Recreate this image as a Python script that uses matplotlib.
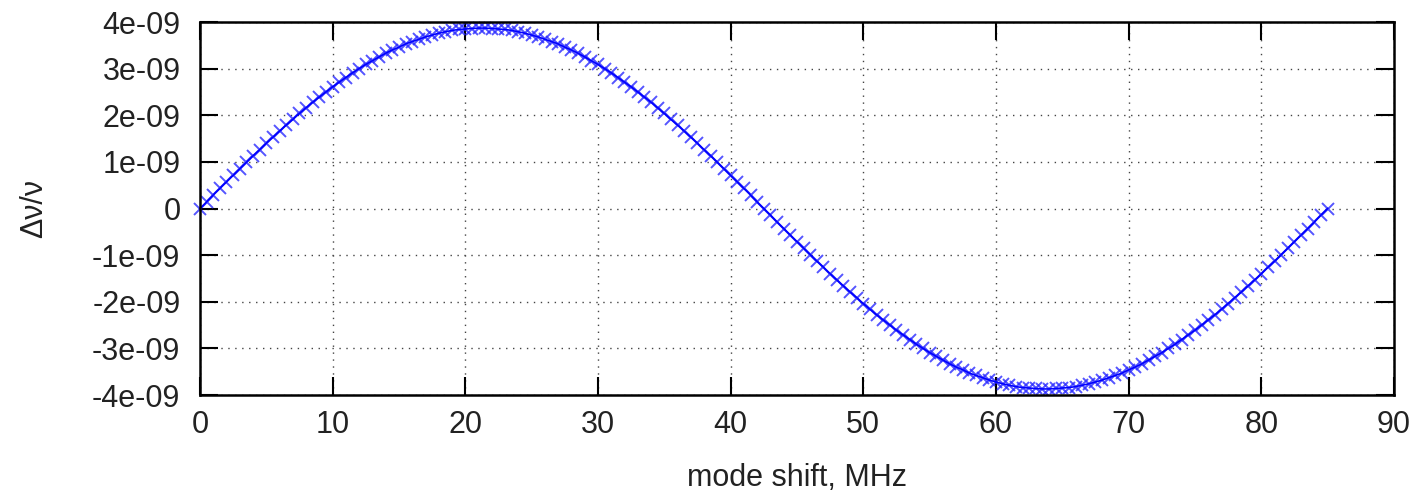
import numpy as np
import matplotlib.pyplot as plt

plt.rcParams['font.family'] = ['Liberation Sans', 'DejaVu Sans']

# mode shift grid, MHz (points every 0.5 MHz from 0 to 85)
SHIFT_START = 0.0
SHIFT_STOP = 85.0
SHIFT_STEP = 0.5

# relative frequency change, in units of 1e-9
DNU_OVER_NU = [
    0.00, 0.14, 0.29, 0.43, 0.57, 0.71, 0.85, 0.99, 1.13, 1.26,
    1.40, 1.53, 1.66, 1.79, 1.91, 2.04, 2.16, 2.28, 2.39, 2.50,
    2.61, 2.71, 2.81, 2.91, 3.00, 3.09, 3.17, 3.25, 3.33, 3.40,
    3.46, 3.53, 3.58, 3.63, 3.68, 3.72, 3.76, 3.79, 3.82, 3.84,
    3.85, 3.86, 3.87, 3.87, 3.86, 3.85, 3.84, 3.82, 3.79, 3.76,
    3.72, 3.68, 3.63, 3.58, 3.53, 3.46, 3.40, 3.33, 3.25, 3.17,
    3.09, 3.00, 2.91, 2.81, 2.71, 2.61, 2.50, 2.39, 2.28, 2.16,
    2.04, 1.91, 1.79, 1.66, 1.53, 1.40, 1.26, 1.13, 0.99, 0.85,
    0.71, 0.57, 0.43, 0.29, 0.14, 0.00, -0.14, -0.29, -0.43, -0.57,
    -0.71, -0.85, -0.99, -1.13, -1.26, -1.40, -1.53, -1.66, -1.79, -1.91,
    -2.04, -2.16, -2.28, -2.39, -2.50, -2.61, -2.71, -2.81, -2.91, -3.00,
    -3.09, -3.17, -3.25, -3.33, -3.40, -3.46, -3.53, -3.58, -3.63, -3.68,
    -3.72, -3.76, -3.79, -3.82, -3.84, -3.85, -3.86, -3.87, -3.87, -3.86,
    -3.85, -3.84, -3.82, -3.79, -3.76, -3.72, -3.68, -3.63, -3.58, -3.53,
    -3.46, -3.40, -3.33, -3.25, -3.17, -3.09, -3.00, -2.91, -2.81, -2.71,
    -2.61, -2.50, -2.39, -2.28, -2.16, -2.04, -1.91, -1.79, -1.66, -1.53,
    -1.40, -1.26, -1.13, -0.99, -0.85, -0.71, -0.57, -0.43, -0.29, -0.14,
    0.00,
]

X_TICKS = [0, 10, 20, 30, 40, 50, 60, 70, 80, 90]
Y_TICKS = [-4e-09, -3e-09, -2e-09, -1e-09, 0, 1e-09, 2e-09, 3e-09, 4e-09]
Y_TICK_LABELS = ["-4e-09", "-3e-09", "-2e-09", "-1e-09", "0",
                 "1e-09", "2e-09", "3e-09", "4e-09"]

TEXT_COLOR = "#222222"
FONT_SIZE = 22


def main():
    shift = np.arange(SHIFT_START, SHIFT_STOP + SHIFT_STEP / 2, SHIFT_STEP)
    dnu = np.array(DNU_OVER_NU) * 1e-9

    fig = plt.figure(figsize=(14.22, 4.97), dpi=100)
    ax = fig.add_axes([0.1406, 0.2052, 0.8397, 0.7505])

    # markers (lighter, overlapping) and the connecting line on top
    ax.plot(shift, dnu, linestyle="none", marker="x", markersize=9,
            markeredgewidth=1.4, color="#2a2aff", alpha=0.8, clip_on=False)
    ax.plot(shift, dnu, color="#0000ff", linewidth=1.2, clip_on=False)

    ax.set_xlim(0, 90)
    ax.set_ylim(-4e-09, 4e-09)
    ax.set_xticks(X_TICKS)
    ax.set_yticks(Y_TICKS)
    ax.set_yticklabels(Y_TICK_LABELS)

    ax.grid(True, linestyle=(0, (1, 4)), color="#444444", linewidth=1.0)
    ax.tick_params(direction="in", length=13, width=1.5,
                   labelsize=FONT_SIZE, labelcolor=TEXT_COLOR,
                   top=True, right=True)
    ax.tick_params(axis="y", pad=14)
    ax.tick_params(axis="x", pad=11)
    for side in ax.spines.values():
        side.set_linewidth(1.8)

    ax.set_xlabel("mode shift, MHz", fontsize=FONT_SIZE, color=TEXT_COLOR,
                  labelpad=16)
    ax.set_ylabel("Δν/ν", fontsize=FONT_SIZE, color=TEXT_COLOR, labelpad=31)

    fig.savefig("out.png", dpi=100)


if __name__ == "__main__":
    main()
